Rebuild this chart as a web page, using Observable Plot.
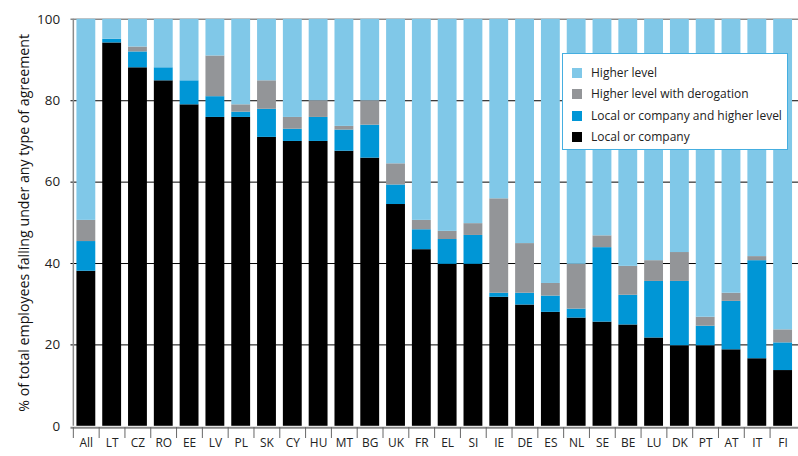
<!DOCTYPE html>
<html><head><meta charset="utf-8">
<script src="https://cdn.jsdelivr.net/npm/d3@7"></script>
<script src="https://cdn.jsdelivr.net/npm/@observablehq/plot@0.6"></script>
<style>
body{margin:0;overflow:hidden;background:#fff;font-family:"Open Sans",sans-serif;}
#wrap{position:relative;width:798px;height:456px;overflow:hidden;}
#legend{position:absolute;left:562px;top:53px;width:224px;height:95px;border:1.5px solid #45aee0;background:#fff;font-size:12px;color:#222;}
#legend .row{position:absolute;left:9px;height:16px;line-height:16px;white-space:nowrap;}
#legend .sw{display:inline-block;width:10px;height:10px;vertical-align:-1px;margin-right:9px;}
</style></head>
<body><div id="wrap"></div>
<script>
const categories = ["All","LT","CZ","RO","EE","LV","PL","SK","CY","HU","MT","BG","UK","FR","EL","SI","IE","DE","ES","NL","SE","BE","LU","DK","PT","AT","IT","FI"];
// cumulative tops
const localTop   = [38.1,94.2,88.1,84.9,79.0,75.9,75.9,71.0,70.0,70.0,67.6,65.9,54.5,43.4,39.8,39.8,31.7,29.8,28.0,26.6,25.6,24.9,21.7,19.8,19.8,18.8,16.6,13.7];
const bothTop    = [45.4,95.1,92.0,88.1,84.9,81.0,77.2,77.9,73.0,75.9,72.8,74.0,59.3,48.3,45.9,46.9,32.7,32.7,32.0,28.8,43.9,32.2,35.6,35.6,24.6,30.7,40.7,20.5];
const derogTop   = [50.6,95.1,93.2,88.1,84.9,91.0,79.0,84.9,75.9,80.0,73.7,80.0,64.5,50.6,47.9,49.8,55.9,44.9,35.1,39.8,46.8,39.3,40.7,42.7,26.8,32.7,41.7,23.7];
const series = ["Local or company","Local or company and higher level","Higher level with derogation","Higher level"];
const colors = ["#000000","#0096d6","#939598","#80c8e8"];
const yTicks = [0,20,40,60,80,100];
const yLabel = "% of total employees falling under any type of agreement";

const rows = [];
categories.forEach((c,i)=>{
  const vals = [localTop[i], bothTop[i]-localTop[i], derogTop[i]-bothTop[i], 100-derogTop[i]];
  series.forEach((s,k)=>rows.push({country:c, series:s, value:vals[k]}));
});

const W = 804, ML = 71, MR = 0, PI = 0.255, PO = 0.1;
const step = (W-ML-MR)/(categories.length - PI + 2*PO);
const bound = step/2;

const chart = Plot.plot({
  width: W, height: 456,
  marginLeft: ML, marginRight: MR, marginTop: 19, marginBottom: 27,
  style:{fontFamily:'"Open Sans",sans-serif', fontSize:"13px", color:"#222", background:"transparent", overflow:"visible"},
  x:{domain:categories, paddingInner:PI, paddingOuter:PO, label:null},
  y:{domain:[0,100], ticks:yTicks, label:yLabel},
  color:{domain:series, range:colors},
  marks:[
    Plot.ruleY([20,40,60,80], {stroke:"#000", strokeWidth:1}),
    Plot.ruleY([100], {stroke:"#8a8a8a", strokeWidth:1.5}),
    Plot.barY(rows, Plot.stackY({x:"country", y:"value", fill:"series", order:series})),
    Plot.ruleY([0], {stroke:"#8a8a8a", strokeWidth:2, dy:1.5}),
    Plot.ruleX(categories, {x:d=>d, y1:0, y2:100, dx:-bound, stroke:"#8a8a8a", strokeWidth:1.5, filter:(d,i)=>i===0}),
    Plot.ruleX(categories, {x:d=>d, y1:-0.3, y2:-3, dx:-bound, stroke:"#666", strokeWidth:1}),
    Plot.axisX({tickSize:0, tickPadding:12, fontSize:12, label:null}),
    Plot.axisY({ticks:yTicks, tickSize:0, tickPadding:11, fontSize:13.5, labelAnchor:"center", labelOffset:52, labelArrow:"none"})
  ]
});
chart.querySelectorAll("text").forEach(t=>{
  if (t.textContent.trim() === yLabel) { t.style.fontSize = "14.3px"; t.style.fill = "#111"; }
});
document.getElementById("wrap").appendChild(chart);

const lg = document.createElement("div");
lg.id = "legend";
const order = [3,2,1,0];
order.forEach((k,j)=>{
  const r = document.createElement("div");
  r.className="row";
  r.style.top = (11 + j*21.3)+"px";
  r.innerHTML = `<span class="sw" style="background:${colors[k]}"></span>${series[k]}`;
  lg.appendChild(r);
});
document.getElementById("wrap").appendChild(lg);
</script>
</body></html>
